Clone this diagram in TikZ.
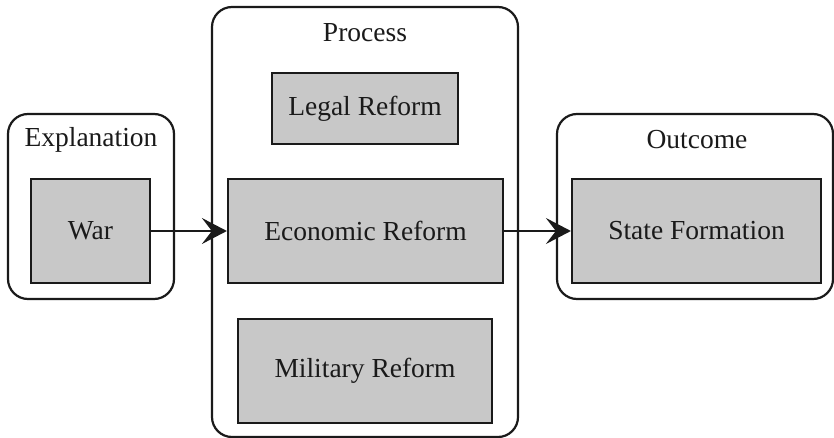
\documentclass[tikz,border=0pt]{standalone}
\usepackage{fontspec}
\setmainfont{Liberation Serif}
\usetikzlibrary{arrows.meta}
\definecolor{boxgray}{HTML}{C8C8C8}
\definecolor{ink}{HTML}{1A1A1A}
\tikzset{
  group/.style={draw=ink, line width=2.2pt, rounded corners=20pt},
  inner/.style={draw=ink, line width=2.2pt, fill=boxgray, inner sep=0pt,
    font=\fontsize{27.5}{32}\selectfont, text=ink},
  lbl/.style={font=\fontsize{27.5}{32}\selectfont, text=ink, inner sep=0pt},
  conn/.style={draw=ink, line width=2.2pt, -{Stealth[length=25pt,width=26pt,inset=10pt]}}
}
\begin{document}
\begin{tikzpicture}[x=1pt,y=-1pt]
\useasboundingbox (0,0) rectangle (834,438);
% groups
\draw[group] (8,114) rectangle (174,299);
\draw[group] (212,7) rectangle (518,437);
\draw[group] (557,114) rectangle (833,299);
% group labels
\node[lbl] (lexp) at (91,140) {Explanation};
\node[lbl] (lproc) at (365,33) {Process};
\node[lbl] (lout) at (697,140) {Outcome};
% inner boxes
\node[inner, minimum width=119pt, minimum height=104pt] (war) at (90.5,231) {War};
\node[inner, minimum width=186pt, minimum height=71pt] (legal) at (365,108.5) {Legal Reform};
\node[inner, minimum width=275pt, minimum height=104pt] (econ) at (365.5,231) {Economic Reform};
\node[inner, minimum width=254pt, minimum height=104pt] (mil) at (365,371) {Military Reform};
\node[inner, minimum width=249pt, minimum height=104pt] (state) at (696.5,231) {State Formation};
% connectors
\draw[conn] (war.east) -- (econ.west);
\draw[conn] (econ.east) -- (state.west);
\end{tikzpicture}
\end{document}
